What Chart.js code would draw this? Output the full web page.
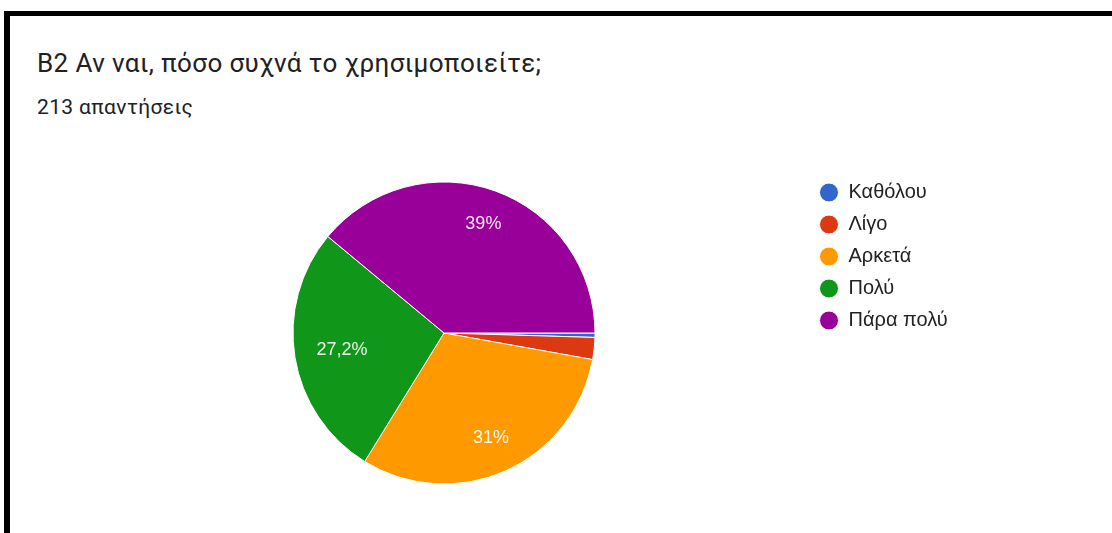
<!DOCTYPE html>
<html>
<head>
<meta charset="utf-8">
<title>B2</title>
<script src="https://cdn.jsdelivr.net/npm/chart.js@4"></script>
<style>
  html, body { margin: 0; padding: 0; background: #fff; }
  body { width: 1112px; height: 533px; position: relative; overflow: hidden; }
  .frame {
    position: absolute; left: 4px; top: 11px; right: -20px; bottom: -20px;
    border-left: 6px solid #000; border-top: 5px solid #000;
  }
  .title { position: absolute; left: 37px; top: 48px; font: 26px Roboto, sans-serif; letter-spacing: 0.4px; color: #202124; white-space: nowrap; }
  .sub { position: absolute; left: 37px; top: 95px; font: 21px Roboto, sans-serif; letter-spacing: 0.35px; color: #202124; white-space: nowrap; }
  #pie { position: absolute; left: 0; top: 0; }
</style>
</head>
<body>
<div class="frame"></div>
<div class="title">B2 Αν ναι, πόσο συχνά το χρησιμοποιείτε;</div>
<div class="sub">213 απαντήσεις</div>
<canvas id="pie" width="1112" height="533"></canvas>
<script>
// Απαντήσεις ανά επιλογή
const options = ['Καθόλου', 'Λίγο', 'Αρκετά', 'Πολύ', 'Πάρα πολύ'];
const answers = [1, 5, 66, 58, 83];
const colors = ['#3366cc', '#dc3912', '#ff9900', '#109618', '#990099'];

const legendFont = { family: 'Arial', size: 20 };
const legendPad = 12;
const dotSize = 19;

// legend width, so the legend lands at a fixed x
const measure = document.createElement('canvas').getContext('2d');
measure.font = legendFont.size + 'px ' + legendFont.family;
const maxText = Math.max(...options.map(t => measure.measureText(t).width));
const legendWidth = 2 * legendPad + dotSize + legendFont.size / 2 + maxText;
const padRight = 1112 - 805.5 - legendWidth;

function formatPct(p) {
    let s = p.toFixed(1);
    if (s.endsWith('.0')) s = s.slice(0, -2);
    return s.replace('.', ',') + '%';
}

// percentages written inside the bigger slices; each label is pushed out
// along the slice middle until its far corner reaches 86% of the radius
const sliceLabels = {
    id: 'sliceLabels',
    afterDatasetsDraw(chart) {
        const ctx = chart.ctx;
        const meta = chart.getDatasetMeta(0);
        const total = answers.reduce((a, b) => a + b, 0);
        ctx.save();
        ctx.font = '18px Arial';
        ctx.fillStyle = 'rgba(255, 255, 255, 0.92)';
        ctx.textAlign = 'center';
        ctx.textBaseline = 'middle';
        meta.data.forEach((arc, i) => {
            const pct = answers[i] / total * 100;
            if (pct < 5) return;
            const text = formatPct(pct);
            const mid = (arc.startAngle + arc.endAngle) / 2;
            const ux = Math.cos(mid), uy = Math.sin(mid);
            const a = ctx.measureText(text).width / 2, b = 7.5;
            const limit = arc.outerRadius * 0.86;
            const B = a * Math.abs(ux) + b * Math.abs(uy);
            const C = a * a + b * b - limit * limit;
            const d = -B + Math.sqrt(B * B - C);
            ctx.fillText(text, arc.x + ux * d, arc.y + uy * d);
        });
        ctx.restore();
    }
};

const pieCtx = document.getElementById('pie').getContext('2d');
const pieChart = new Chart(pieCtx, {
    type: 'pie',
    data: {
        labels: options,
        datasets: [{
            data: answers,
            backgroundColor: colors,
            borderColor: '#ffffff',
            borderWidth: 1,
            radius: 151
        }]
    },
    options: {
        responsive: false,
        animation: false,
        rotation: 90,
        layout: {
            padding: { left: 80.5, top: 170.5, bottom: 37.5, right: padRight }
        },
        plugins: {
            tooltip: { enabled: false },
            legend: {
                position: 'right',
                align: 'start',
                labels: {
                    usePointStyle: true,
                    pointStyle: 'circle',
                    pointStyleWidth: dotSize,
                    boxHeight: dotSize / Math.SQRT2,
                    padding: legendPad,
                    color: '#222222',
                    font: legendFont
                }
            }
        }
    },
    plugins: [sliceLabels]
});
</script>
</body>
</html>
